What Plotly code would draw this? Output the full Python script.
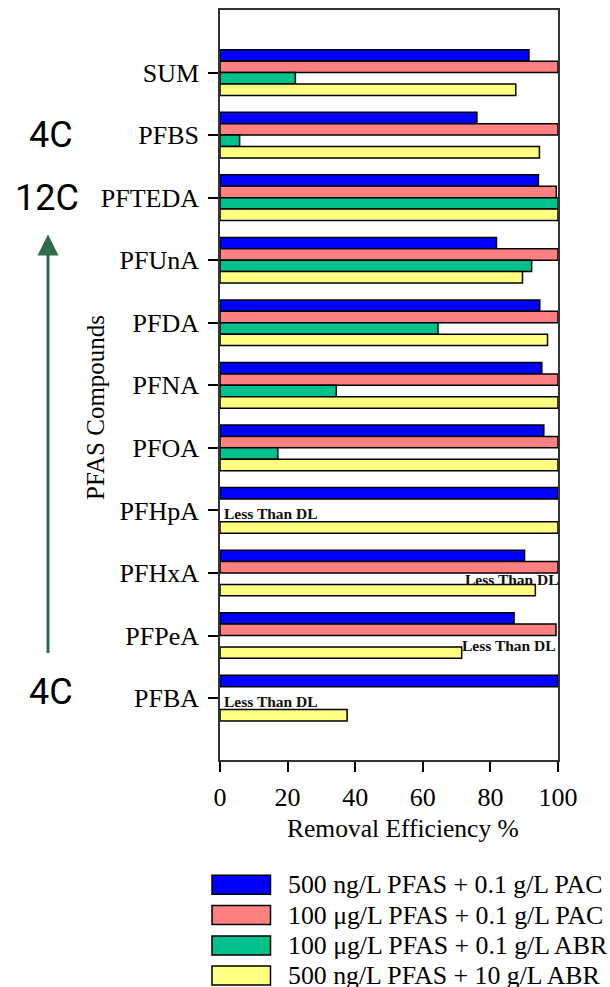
import plotly.graph_objects as go

categories = ["SUM", "PFBS", "PFTEDA", "PFUnA", "PFDA", "PFNA", "PFOA",
              "PFHpA", "PFHxA", "PFPeA", "PFBA"]
series_names = ["500 ng/L PFAS + 0.1 g/L PAC",
                "100 \u03bcg/L PFAS + 0.1 g/L PAC",
                "100 \u03bcg/L PFAS + 0.1 g/L ABR",
                "500 ng/L PFAS + 10 g/L ABR"]
pac_500ng = [91.4, 76.0, 94.2, 81.8, 94.6, 95.2, 95.8, 100, 90.1, 87.0, 100]
pac_100ug = [100, 100, 99.5, 100, 100, 100, 100, None, 100, 99.4, None]
abr_100ug = [22.3, 5.8, 100, 92.2, 64.5, 34.4, 17.1, None, None, None, None]
abr_10g = [87.5, 94.5, 100, 89.5, 96.9, 100, 100, 100, 93.3, 71.5, 37.6]
series_values = [pac_500ng, pac_100ug, abr_100ug, abr_10g]
colors = ["#0000ff", "#ff8080", "#00c08b", "#ffff80"]

ltdl_cats = ["PFHpA", "PFHxA", "PFPeA", "PFBA"]
ltdl_x = [0.5, 100, 100, 0.5]
ltdl_xshift = [0, 3, 0, 0]
ltdl_anchor = ["left", "right", "right", "left"]
ltdl_shift = [-3, -7, -10, -3]

x_ticks = [0, 20, 40, 60, 80, 100]

SERIF = "Liberation Serif, Times New Roman, serif"

fig = go.Figure()
for name, vals, col in zip(series_names, series_values, colors):
    fig.add_trace(go.Bar(
        y=categories, x=vals, name=name, orientation="h",
        marker=dict(color=col, line=dict(color="black", width=1.5)),
        showlegend=False))

W, H = 610, 987
L, R, T, B = 220, 52, 8, 227
pw, ph = W - L - R, H - T - B


def px(xp):
    return (xp - L) / pw


def py(yp):
    return (H - B - yp) / ph


fig.update_layout(
    width=W, height=H,
    margin=dict(l=L, r=R, t=T, b=B, pad=0),
    barmode="group", bargap=0.27, bargroupgap=0,
    plot_bgcolor="white", paper_bgcolor="white",
    font=dict(family=SERIF, size=24, color="black"),
)
fig.update_xaxes(
    range=[0, 100], tickvals=x_ticks, ticks="outside", ticklen=10,
    tickwidth=1.5, tickcolor="black", showgrid=False, zeroline=False,
    showline=True, linecolor="#333", linewidth=1.5, mirror=True,
    tickfont=dict(size=26, family=SERIF), ticklabelstandoff=3)
fig.update_yaxes(
    categoryorder="array", categoryarray=categories,
    range=[10.99, -1.0], ticks="outside", ticklen=10, tickwidth=1.5,
    tickcolor="black", showgrid=False, zeroline=False, showline=True,
    linecolor="#333", linewidth=1.5, mirror=True,
    tickfont=dict(size=26, family=SERIF), ticklabelstandoff=4)

# "Less Than DL" labels
for c, xv, xs, anc, sh in zip(ltdl_cats, ltdl_x, ltdl_xshift, ltdl_anchor, ltdl_shift):
    fig.add_annotation(x=xv, y=c, xref="x", yref="y", text="<b>Less Than DL</b>",
                       showarrow=False, xanchor=anc, yanchor="middle",
                       xshift=xs, yshift=sh,
                       font=dict(size=15.5, family=SERIF, color="#111"))

# axis titles
fig.add_annotation(x=px(403), y=py(829), xref="paper", yref="paper",
                   text="Removal Efficiency %", showarrow=False,
                   xanchor="center", yanchor="middle",
                   font=dict(size=25.5, family=SERIF))
fig.add_annotation(x=px(96), y=py(407), xref="paper", yref="paper",
                   text="PFAS Compounds", showarrow=False, textangle=-90,
                   xanchor="center", yanchor="middle",
                   font=dict(size=25, family=SERIF))

# chain length labels and arrow
SANS = "Roboto, Noto Sans, sans-serif"
for txt, xx, yy in [("4C", 51, 133), ("12C", 47, 196), ("4C", 51, 692)]:
    fig.add_annotation(x=px(xx), y=py(yy), xref="paper", yref="paper",
                       text=txt, showarrow=False, xanchor="center",
                       yanchor="middle",
                       font=dict(size=36, family=SANS, color="black"))
fig.add_annotation(x=px(48), y=py(233), xref="paper", yref="paper",
                   ax=0, ay=420, axref="pixel", ayref="pixel", text="",
                   showarrow=True, arrowhead=2, arrowsize=1.4, arrowwidth=3,
                   arrowcolor="#2e6b46", standoff=0)

# manual legend
row_y = [885, 915.5, 946, 976]
for name, col, yy in zip(series_names, colors, row_y):
    fig.add_shape(type="rect", xref="paper", yref="paper",
                  x0=px(212), x1=px(270.5), y0=py(yy - 9.5), y1=py(yy + 9.5),
                  fillcolor=col, line=dict(color="black", width=1.5))
    fig.add_annotation(x=px(286), y=py(yy), xref="paper", yref="paper",
                       text=name, showarrow=False, xanchor="left",
                       yanchor="middle", font=dict(size=25.8, family=SERIF))

fig.write_html("out.html", config={"displayModeBar": False},
               post_script="document.body.style.margin='0px';"
                           "document.body.style.overflow='hidden';")
